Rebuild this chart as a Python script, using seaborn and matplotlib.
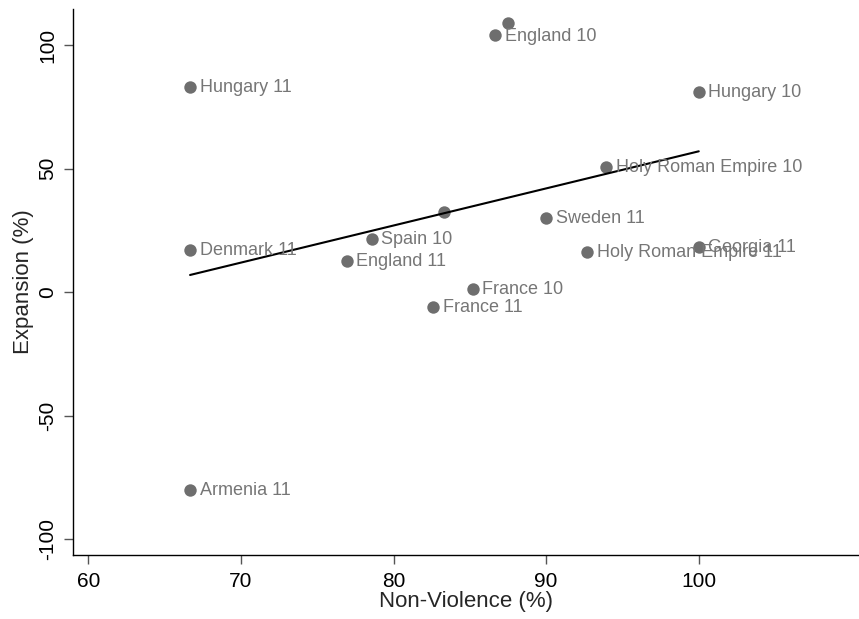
import matplotlib
matplotlib.use("Agg")
import matplotlib.pyplot as plt
import numpy as np
import pandas as pd
import seaborn as sns

# Country-period observations
labels = ["Hungary 11", "Denmark 11", "Armenia 11", "England 10", "", "Hungary 10",
          "Holy Roman Empire 10", "", "Sweden 11", "Spain 10", "Holy Roman Empire 11",
          "Georgia 11", "England 11", "France 10", "France 11"]
non_violence = [66.67, 66.67, 66.67, 86.67, 87.5, 100.0,
                93.94, 83.33, 90.0, 78.57, 92.67,
                100.0, 76.92, 85.19, 82.61]
expansion = [83.1, 17.1, -80.2, 104.0, 109.0, 81.0,
             50.7, 32.5, 30.0, 21.6, 16.3,
             18.3, 12.7, 1.3, -5.9]

x_ticks = [60, 70, 80, 90, 100]
y_ticks = [-100, -50, 0, 50, 100]

df = pd.DataFrame({"label": labels, "nv": non_violence, "exp": expansion})

sns.set_theme(style="white")
plt.rcParams["font.family"] = ["Liberation Sans", "DejaVu Sans"]

fig = plt.figure(figsize=(8.59, 6.19), dpi=100)
ax = fig.add_axes([0.085, 0.1034, 0.915, 0.8821])

point_color = "#6e6e6e"
sns.scatterplot(data=df, x="nv", y="exp", ax=ax, color=point_color, s=80,
                edgecolor=point_color, linewidth=0, zorder=3, legend=False)
sns.regplot(data=df, x="nv", y="exp", ax=ax, scatter=False, ci=None, truncate=True,
            line_kws={"color": "black", "linewidth": 1.5, "zorder": 4})

for lab, xv, yv in zip(labels, non_violence, expansion):
    if lab:
        ax.annotate(lab, (xv, yv), xytext=(7, -0.5), textcoords="offset points",
                    ha="left", va="center", fontsize=13, color="#767676", zorder=5)

ax.set_xlim(59.0, 110.5)
ax.set_ylim(-106.4, 114.7)
ax.set_xticks(x_ticks)
ax.set_yticks(y_ticks)
ax.set_xticklabels([str(t) for t in x_ticks], fontsize=15)
ax.set_yticklabels([str(t) for t in y_ticks], fontsize=15, rotation=90, va="center")
ax.set_xlabel("Non-Violence (%)", fontsize=16, labelpad=0)
ax.set_ylabel("Expansion (%)", fontsize=16, labelpad=3)

for side in ["top", "right"]:
    ax.spines[side].set_visible(False)
for side in ["left", "bottom"]:
    ax.spines[side].set_color("black")
    ax.spines[side].set_linewidth(1.0)

ax.tick_params(axis="both", which="major", direction="out", length=6.5, width=1,
               color="#555555", labelcolor="black", bottom=True, left=True)
ax.tick_params(axis="x", pad=6)
ax.tick_params(axis="y", pad=5)

fig.savefig("out.png", dpi=100, facecolor="white")
